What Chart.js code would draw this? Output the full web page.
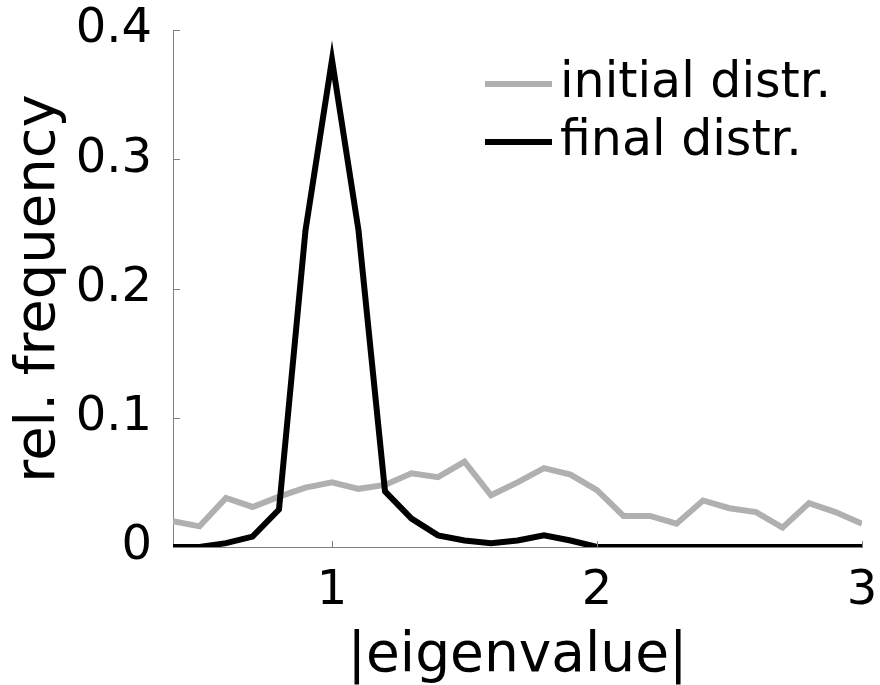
<!DOCTYPE html>
<html>
<head>
<meta charset="utf-8">
<title>Eigenvalue distribution</title>
<script src="https://cdn.jsdelivr.net/npm/chart.js@4/dist/chart.umd.min.js"></script>
<style>
  html, body { margin: 0; padding: 0; background: #ffffff; }
  canvas { display: block; }
</style>
</head>
<body>
<canvas id="chart" width="880" height="685"></canvas>
<script>
// Bin centres of |eigenvalue|
const binCenters = [0.4, 0.5, 0.6, 0.7, 0.8, 0.9, 1.0, 1.1, 1.2, 1.3, 1.4, 1.5, 1.6, 1.7,
                    1.8, 1.9, 2.0, 2.1, 2.2, 2.3, 2.4, 2.5, 2.6, 2.7, 2.8, 2.9, 3.0];

// Relative frequency per bin
const initialDistr = [0.020, 0.016, 0.038, 0.031, 0.039, 0.046, 0.050, 0.045, 0.048, 0.057,
                      0.054, 0.066, 0.040, 0.050, 0.061, 0.056, 0.044, 0.024, 0.024, 0.018,
                      0.036, 0.030, 0.027, 0.015, 0.034, 0.027, 0.018];
const finalDistr   = [0.000, 0.000, 0.003, 0.008, 0.029, 0.245, 0.377, 0.245, 0.043, 0.022,
                      0.009, 0.005, 0.003, 0.005, 0.009, 0.005, 0.000, 0.000, 0.000, 0.000,
                      0.000, 0.000, 0.000, 0.000, 0.000, 0.000, 0.000];

const seriesNames = ['initial distr.', 'final distr.'];
const xTickValues = [1, 2, 3];
const yTickValues = [0, 0.1, 0.2, 0.3, 0.4];
const xAxisTitle = '|eigenvalue|';
const yAxisTitle = 'rel. frequency';

const FONT = 'DejaVu Sans';
const AXIS_COLOR = '#808080';

const toPoints = (ys) => ys.map((y, i) => ({ x: binCenters[i], y }));

// Short tick marks pointing into the plot area
const innerTicks = {
  id: 'innerTicks',
  afterDatasetsDraw(chart) {
    const { ctx, chartArea, scales } = chart;
    ctx.save();
    ctx.strokeStyle = AXIS_COLOR;
    ctx.lineWidth = 1;
    ctx.beginPath();
    xTickValues.forEach(v => {
      const px = Math.round(scales.x.getPixelForValue(v)) + 0.5;
      ctx.moveTo(px, chartArea.bottom);
      ctx.lineTo(px, chartArea.bottom - 6);
    });
    yTickValues.forEach(v => {
      const py = Math.round(scales.y.getPixelForValue(v)) + 0.5;
      ctx.moveTo(chartArea.left, py);
      ctx.lineTo(chartArea.left + 7, py);
    });
    ctx.stroke();
    ctx.restore();
  }
};

// Legend drawn inside the plot, upper right
const insideLegend = {
  id: 'insideLegend',
  afterDraw(chart) {
    const { ctx, chartArea } = chart;
    const lineStart = chartArea.right - 377;
    const lineEnd = chartArea.right - 310;
    const textX = chartArea.right - 302;
    const rows = [chartArea.top + 54, chartArea.top + 112];
    ctx.save();
    ctx.font = '49px "' + FONT + '"';
    ctx.textBaseline = 'middle';
    ctx.textAlign = 'left';
    chart.data.datasets.forEach((ds, i) => {
      const y = rows[i];
      ctx.strokeStyle = ds.borderColor;
      ctx.lineWidth = ds.borderWidth;
      ctx.lineCap = 'butt';
      ctx.beginPath();
      ctx.moveTo(lineStart, y);
      ctx.lineTo(lineEnd, y);
      ctx.stroke();
      ctx.fillStyle = '#000000';
      ctx.fillText(ds.label, textX, y);
    });
    ctx.restore();
  }
};

new Chart(document.getElementById('chart'), {
  type: 'line',
  data: {
    datasets: [
      {
        label: seriesNames[0],
        data: toPoints(initialDistr),
        borderColor: '#b0b0b0',
        borderWidth: 6,
        pointRadius: 0,
        tension: 0,
        fill: false,
        order: 2
      },
      {
        label: seriesNames[1],
        data: toPoints(finalDistr),
        borderColor: '#000000',
        borderWidth: 6,
        pointRadius: 0,
        tension: 0,
        fill: false,
        order: 1
      }
    ]
  },
  options: {
    responsive: false,
    animation: false,
    devicePixelRatio: 1,
    layout: { padding: { top: 30, right: 18, left: 0, bottom: 0 } },
    plugins: {
      legend: { display: false },
      tooltip: { enabled: false }
    },
    scales: {
      x: {
        type: 'linear',
        min: 0.4,
        max: 3,
        afterBuildTicks: (scale) => { scale.ticks = xTickValues.map(v => ({ value: v })); },
        afterFit: (scale) => {
          scale.height = 138;
          scale.paddingLeft = 0;
          scale.paddingRight = 0;
        },
        grid: { display: false },
        border: { display: true, color: AXIS_COLOR, width: 1 },
        ticks: {
          color: '#000000',
          font: { family: FONT, size: 48 },
          padding: 8,
          maxRotation: 0,
          callback: (v) => String(v)
        },
        title: {
          display: true,
          text: xAxisTitle,
          color: '#000000',
          font: { family: FONT, size: 55 },
          padding: { top: 0, bottom: -5 }
        }
      },
      y: {
        type: 'linear',
        min: 0,
        max: 0.4,
        afterBuildTicks: (scale) => { scale.ticks = yTickValues.map(v => ({ value: v })); },
        afterFit: (scale) => {
          scale.width = 173;
          scale.paddingTop = 0;
          scale.paddingBottom = 0;
        },
        grid: { display: false },
        border: { display: true, color: AXIS_COLOR, width: 1 },
        ticks: {
          color: '#000000',
          font: { family: FONT, size: 48 },
          padding: 13,
          callback: (v) => String(v)
        },
        title: {
          display: true,
          text: yAxisTitle,
          color: '#000000',
          font: { family: FONT, size: 56 },
          padding: { top: 6, bottom: 0 }
        }
      }
    }
  },
  plugins: [innerTicks, insideLegend]
});
</script>
</body>
</html>
